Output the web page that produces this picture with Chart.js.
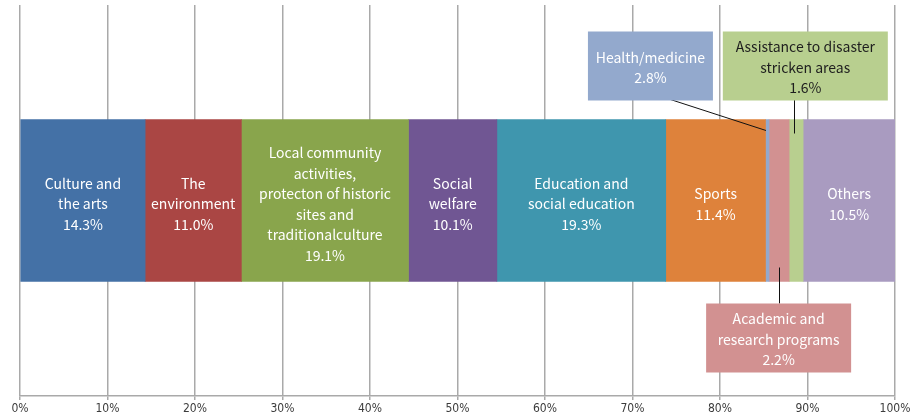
<!DOCTYPE html>
<html>
<head>
<meta charset="utf-8">
<script src="https://cdn.jsdelivr.net/npm/chart.js@4"></script>
<style>
  html, body { margin: 0; padding: 0; background: #fff; }
  #wrap { width: 913px; height: 419px; position: relative; }
</style>
</head>
<body>
<div id="wrap"><canvas id="c"></canvas></div>
<script>
// Share of activity fields — one 100% stacked horizontal bar.
const categories = [
  'Culture and the arts', 'The environment',
  'Local community activities, protecton of historic sites and traditionalculture',
  'Social welfare', 'Education and social education', 'Sports',
  'Health/medicine', 'Academic and research programs',
  'Assistance to disaster stricken areas', 'Others'
];
// widths as drawn in the picture (the small segments are not to scale with their labels)
const drawnShare = [14.3, 11.0, 19.1, 10.1, 19.3, 11.4, 0.4, 2.3, 1.6, 10.5];
// percentages printed on the chart
const printedShare = ['14.3%', '11.0%', '19.1%', '10.1%', '19.3%', '11.4%', '2.8%', '2.2%', '1.6%', '10.5%'];
// how each label is broken into lines
const labelLines = [
  ['Culture and', 'the arts'],
  ['The', 'environment'],
  ['Local community', 'activities,', 'protecton of historic', 'sites and', 'traditionalculture'],
  ['Social', 'welfare'],
  ['Education and', 'social education'],
  ['Sports'],
  ['Health/medicine'],
  ['Academic and', 'research programs'],
  ['Assistance to disaster', 'stricken areas'],
  ['Others']
];
const xTicks = [0, 10, 20, 30, 40, 50, 60, 70, 80, 90, 100];

const COLORS = ['#4471a6', '#aa4644', '#89a54c', '#705693', '#3f96ae',
                '#de823b', '#93a9cd', '#d29191', '#b8cf8f', '#a99bc0'];
const GRID = '#a9a9a9';
const FONT = '"Noto Sans CJK JP", "Noto Sans", sans-serif';
const LINE_H = 20.5;

// callouts for the thin segments: box centre on the value axis, offset from the bar in px
const callouts = {
  6: { cx: 72.05, w: 125, h: 69, above: 19, text: '#fff' },
  8: { cx: 89.75, w: 165, h: 69, above: 19, text: '#1e1e1e' },
  7: { cx: 86.7, w: 145, h: 69, below: 22, text: '#fff' }
};

function drawLines(ctx, lines, cx, cy) {
  const top = cy - (lines.length - 1) * LINE_H / 2;
  lines.forEach((t, i) => ctx.fillText(t, cx, top + i * LINE_H));
}

const segmentLabels = {
  id: 'segmentLabels',
  afterDatasetsDraw(chart) {
    const ctx = chart.ctx;
    const xs = chart.scales.x;
    ctx.save();
    ctx.font = '14px ' + FONT;
    ctx.textAlign = 'center';
    ctx.textBaseline = 'middle';
    chart.data.datasets.forEach((ds, i) => {
      const bar = chart.getDatasetMeta(i).data[0];
      if (!bar) return;
      const left = Math.min(bar.x, bar.base), right = Math.max(bar.x, bar.base);
      const midX = (left + right) / 2;
      const top = bar.y - bar.height / 2, bottom = bar.y + bar.height / 2;
      const lines = labelLines[i].concat([printedShare[i]]);
      const co = callouts[i];
      if (!co) {
        ctx.fillStyle = '#fff';
        drawLines(ctx, lines, midX, bar.y + 3.5);
        return;
      }
      const bx = xs.getPixelForValue(co.cx) - co.w / 2;
      const by = co.above != null ? top - co.above - co.h : bottom + co.below;
      // leader line
      ctx.strokeStyle = '#111';
      ctx.lineWidth = 1;
      ctx.beginPath();
      if (i === 6) {
        ctx.moveTo(bx + co.w / 2 + 1.5, by + co.h - 7);
        ctx.lineTo(left + 0.5, top + 11);
      } else if (i === 8) {
        ctx.moveTo(Math.round(midX) - 1.5, by + co.h - 5);
        ctx.lineTo(Math.round(midX) - 1.5, top + 14);
      } else {
        ctx.moveTo(Math.round(midX) + 0.5, bottom - 14);
        ctx.lineTo(Math.round(midX) + 0.5, by);
      }
      ctx.stroke();
      // box
      ctx.fillStyle = COLORS[i];
      ctx.fillRect(bx, by, co.w, co.h);
      ctx.fillStyle = co.text;
      drawLines(ctx, lines, bx + co.w / 2, by + co.h / 2 + 1.5);
    });
    ctx.restore();
  }
};

const datasets = categories.map((name, i) => ({
  label: name,
  data: [drawnShare[i]],
  backgroundColor: COLORS[i],
  borderWidth: 0,
  barThickness: 162
}));

new Chart(document.getElementById('c'), {
  type: 'bar',
  data: { labels: [''], datasets },
  options: {
    indexAxis: 'y',
    responsive: true,
    maintainAspectRatio: false,
    animation: false,
    layout: { padding: { left: 20, right: 18, top: 5, bottom: 0 } },
    plugins: { legend: { display: false }, tooltip: { enabled: false } },
    scales: {
      x: {
        stacked: true,
        min: 0, max: 100,
        afterBuildTicks: axis => { axis.ticks = xTicks.map(v => ({ value: v })); },
        afterFit: axis => { axis.height = 23; },
        ticks: {
          callback: v => v + '%',
          color: '#3c3c3c',
          font: { family: '"DejaVu Sans Condensed", "Liberation Sans Narrow", sans-serif', size: 12 },
          padding: 2,
          maxRotation: 0
        },
        grid: { color: GRID, lineWidth: 1.5, tickLength: 4 },
        border: { color: GRID, width: 1.5 }
      },
      y: {
        stacked: true,
        display: false
      }
    }
  },
  plugins: [segmentLabels]
});
</script>
</body>
</html>
